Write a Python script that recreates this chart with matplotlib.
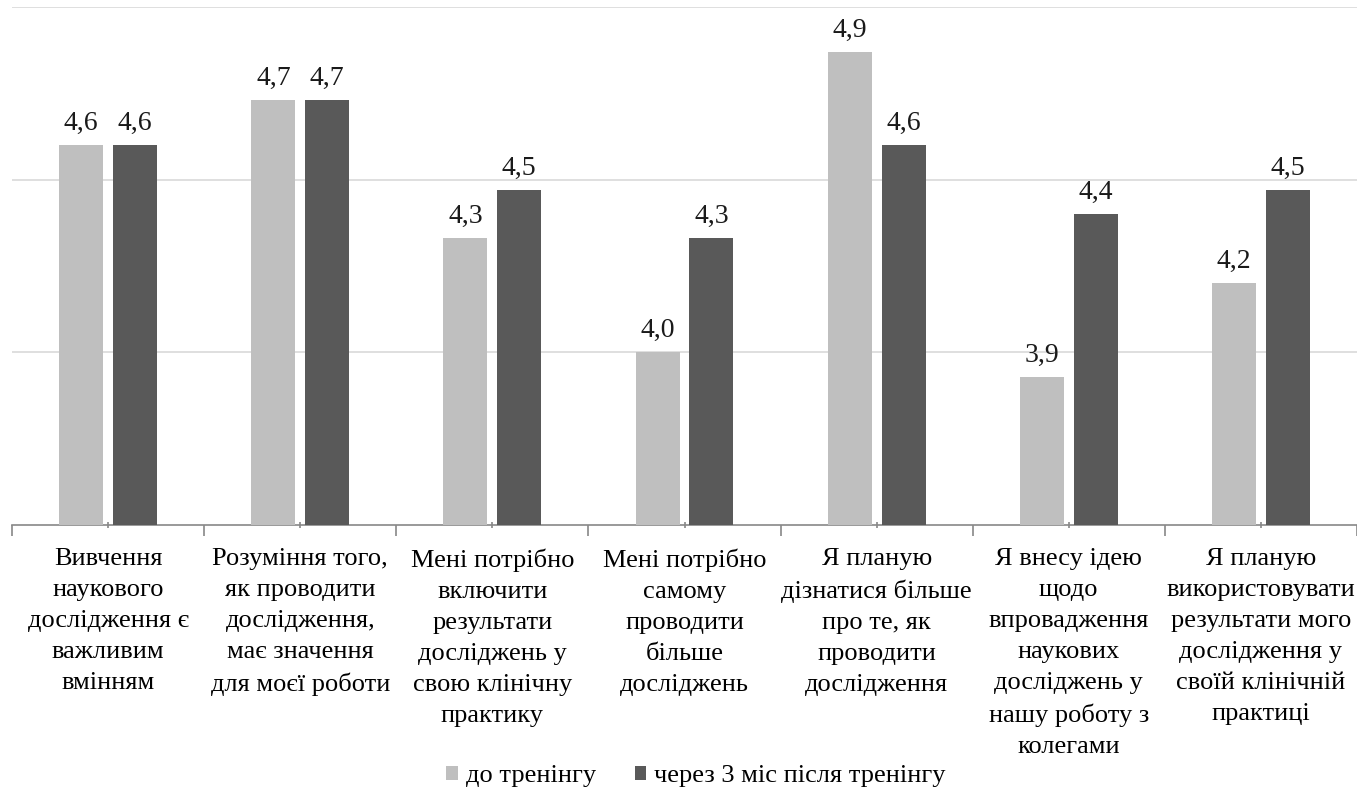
import matplotlib
matplotlib.use('agg')
import matplotlib.pyplot as plt
import numpy as np

plt.rcParams['font.family'] = ['Liberation Serif', 'DejaVu Serif']

categories = [
    "Вивчення\nнаукового\nдослідження є\nважливим\nвмінням",
    "Розуміння того,\nяк проводити\nдослідження,\nмає значення\nдля моєї роботи",
    "Мені потрібно\nвключити\nрезультати\nдосліджень у\nсвою клінічну\nпрактику",
    "Мені потрібно\nсамому\nпроводити\nбільше\nдосліджень",
    "Я планую\nдізнатися більше\nпро те, як\nпроводити\nдослідження",
    "Я внесу ідею\nщодо\nвпровадження\nнаукових\nдосліджень у\nнашу роботу з\nколегами",
    "Я планую\nвикористовувати\nрезультати мого\nдослідження у\nсвоїй клінічній\nпрактиці",
]
before = [4.6, 4.73, 4.33, 4.0, 4.87, 3.93, 4.2]
after = [4.6, 4.73, 4.47, 4.33, 4.6, 4.4, 4.47]
series_names = ["до тренінгу", "через 3 міс після тренінгу"]

fig = plt.figure(figsize=(13.57, 7.94), dpi=100)
ax = fig.add_axes([12 / 1357, 1 - 525 / 794, 1 - 12 / 1357, (525 - 7) / 794])

x = np.arange(len(categories))
w = 0.229
off = 0.14
b1 = ax.bar(x - off, before, w, bottom=0, color='#BFBFBF', label=series_names[0], zorder=3)
b2 = ax.bar(x + off, after, w, bottom=0, color='#595959', label=series_names[1], zorder=3)

ax.set_ylim(3.5, 5.0)
ax.set_xlim(-0.5, len(categories) - 0.5)
for y in [4.0, 4.5, 5.0]:
    ax.axhline(y, color='#D9D9D9', lw=1.2, zorder=1)

for bars, vals in [(b1, before), (b2, after)]:
    for r, v in zip(bars, vals):
        ax.text(r.get_x() + r.get_width() / 2, v + 0.026, f"{v:.1f}".replace('.', ','),
                ha='center', va='bottom', fontsize=20, color='#1a1a1a')

for s in ['top', 'right', 'left']:
    ax.spines[s].set_visible(False)
ax.spines['bottom'].set_color('#888888')
ax.spines['bottom'].set_linewidth(1.2)
ax.set_yticks([])
ax.set_xticks(np.arange(-0.5, len(categories)), minor=False)
ax.set_xticklabels([])
ax.tick_params(axis='x', which='major', length=8, color='#888888', width=1.2)
ax.set_xticks(x, minor=True)
ax.tick_params(axis='x', which='minor', length=5, color='#888888', width=1.2, direction='inout')

for i, c in enumerate(categories):
    ax.text(i, 3.5 - 0.067, c, ha='center', va='top', fontsize=19, color='#000000',
            linespacing=1.53, transform=ax.transData)

fig.legend(handles=[b1, b2], loc='center', bbox_to_anchor=(0.513, 1 - 776 / 794), ncol=2,
           frameon=False, fontsize=19, handlelength=0.45, handleheight=0.45,
           handletextpad=0.3, columnspacing=1.45)

fig.savefig('out.png', dpi=100)
